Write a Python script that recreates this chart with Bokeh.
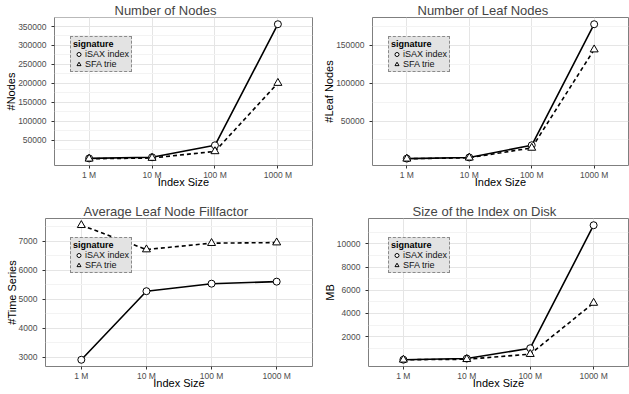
from bokeh.plotting import figure
from bokeh.layouts import column, row
from bokeh.models import (FactorRange, DataRange1d, FixedTicker, Legend,
                          LegendItem, BasicTickFormatter)
from bokeh.embed import file_html
from bokeh.resources import INLINE

# ---------------- data ----------------
sizes = ["1 M", "10 M", "100 M", "1000 M"]

nodes_isax = [2500, 5500, 37000, 356000]
nodes_sfa = [1500, 3500, 21000, 201000]

leaves_isax = [400, 1900, 18000, 178000]
leaves_sfa = [150, 1500, 14500, 144500]

fill_isax = [2910, 5280, 5540, 5610]
fill_sfa = [7560, 6720, 6940, 6960]

disk_isax = [12, 110, 1000, 11600]
disk_sfa = [5, 50, 490, 4900]

series_names = ["iSAX index", "SFA trie"]

nodes_ticks = [50000, 100000, 150000, 200000, 250000, 300000, 350000]
nodes_minor = [25000, 75000, 125000, 175000, 225000, 275000, 325000, 375000]
leaves_ticks = [50000, 100000, 150000]
leaves_minor = [25000, 75000, 125000, 175000]
fill_ticks = [3000, 4000, 5000, 6000, 7000]
fill_minor = [3500, 4500, 5500, 6500, 7500]
disk_ticks = [2000, 4000, 6000, 8000, 10000]
disk_minor = [1000, 3000, 5000, 7000, 9000, 11000]

FONT = "Liberation Sans"


def panel(title, ylabel, isax, sfa, majors, minors, w, h, bl, br, bt, bb,
          title_off, leg_xy):
    p = figure(width=w, height=h, output_backend="svg", toolbar_location=None,
               x_range=FactorRange(*sizes, range_padding=0.05,
                                   range_padding_units="absolute"),
               y_range=DataRange1d(range_padding=0.1),
               min_border_left=bl, min_border_right=br,
               min_border_top=bt, min_border_bottom=bb)
    p.title.text = title
    p.title.text_font = FONT
    p.title.text_font_size = "13px"
    p.title.text_font_style = "normal"
    p.title.align = "left"
    p.title.offset = title_off
    p.title.standoff = 0

    p.outline_line_color = "#7f7f7f"
    p.outline_line_width = 1
    p.background_fill_color = "white"
    p.border_fill_color = "white"

    for ax in (p.xaxis[0], p.yaxis[0]):
        ax.axis_line_color = None
        ax.major_tick_in = 0
        ax.major_tick_out = 3
        ax.major_tick_line_color = "#333333"
        ax.minor_tick_in = 0
        ax.minor_tick_out = 0
        ax.major_label_text_font = FONT
        ax.major_label_text_font_size = "8.5px"
        ax.major_label_text_color = "#4d4d4d"
        ax.axis_label_text_font = FONT
        ax.axis_label_text_font_size = "11px"
        ax.axis_label_text_font_style = "normal"
        ax.axis_label_text_color = "black"
    p.xaxis[0].axis_label = "Index Size"
    p.xaxis[0].major_label_standoff = 1
    p.xaxis[0].axis_label_standoff = -7
    p.yaxis[0].axis_label = ylabel
    p.yaxis[0].major_label_standoff = 5
    p.yaxis[0].axis_label_standoff = -2
    p.yaxis[0].ticker = FixedTicker(ticks=majors, minor_ticks=minors)
    p.yaxis[0].formatter = BasicTickFormatter(use_scientific=False)

    p.xgrid.grid_line_color = "#e5e5e5"
    p.ygrid.grid_line_color = "#e5e5e5"
    p.ygrid.minor_grid_line_color = "#f3f3f3"

    p.line(sizes, isax, line_color="black", line_width=1.6)
    p.line(sizes, sfa, line_color="black", line_width=1.6, line_dash="4 3")
    r1 = p.scatter(sizes, isax, marker="circle", size=7, fill_color="white",
                   line_color="black", line_width=1)
    r2 = p.scatter(sizes, sfa, marker="triangle", size=8, fill_color="white",
                   line_color="black", line_width=1)

    leg = Legend(items=[LegendItem(label=series_names[0], renderers=[r1]),
                        LegendItem(label=series_names[1], renderers=[r2])],
                 location=leg_xy, title="signature")
    leg.title_text_font = FONT
    leg.title_text_font_size = "9px"
    leg.title_text_font_style = "bold"
    leg.title_text_color = "black"
    leg.title_standoff = 0
    leg.label_text_font = FONT
    leg.label_text_font_size = "9px"
    leg.label_text_color = "#111111"
    leg.label_height = 10
    leg.glyph_height = 10
    leg.glyph_width = 11
    leg.label_standoff = 1
    leg.spacing = 0
    leg.padding = 2
    leg.margin = 0
    leg.background_fill_color = "#e3e3e3"
    leg.background_fill_alpha = 1
    leg.border_line_color = "#333333"
    leg.border_line_dash = "1 1"
    leg.border_line_width = 1
    p.add_layout(leg, "center")
    return p


p1 = panel("Number of Nodes", "#Nodes", nodes_isax, nodes_sfa,
           nodes_ticks, nodes_minor, 314, 195, 54, 2, 15, 30, 60, (16, 93))
p2 = panel("Number of Leaf Nodes", "#Leaf Nodes", leaves_isax, leaves_sfa,
           leaves_ticks, leaves_minor, 315, 195, 58, 1, 15, 30, 45, (16, 93))
p3 = panel("Average Leaf Node Fillfactor", "#Time Series", fill_isax, fill_sfa,
           fill_ticks, fill_minor, 314, 199, 45, 2, 23, 28, 38, (25, 93))
p4 = panel("Size of the Index on Disk", "MB", disk_isax, disk_sfa,
           disk_ticks, disk_minor, 315, 199, 54, 1, 23, 28, 44, (20, 93))

layout = column(row(p1, p2, spacing=0), row(p3, p4, spacing=0), spacing=0)

open("out.html", "w").write(file_html(layout, INLINE))
